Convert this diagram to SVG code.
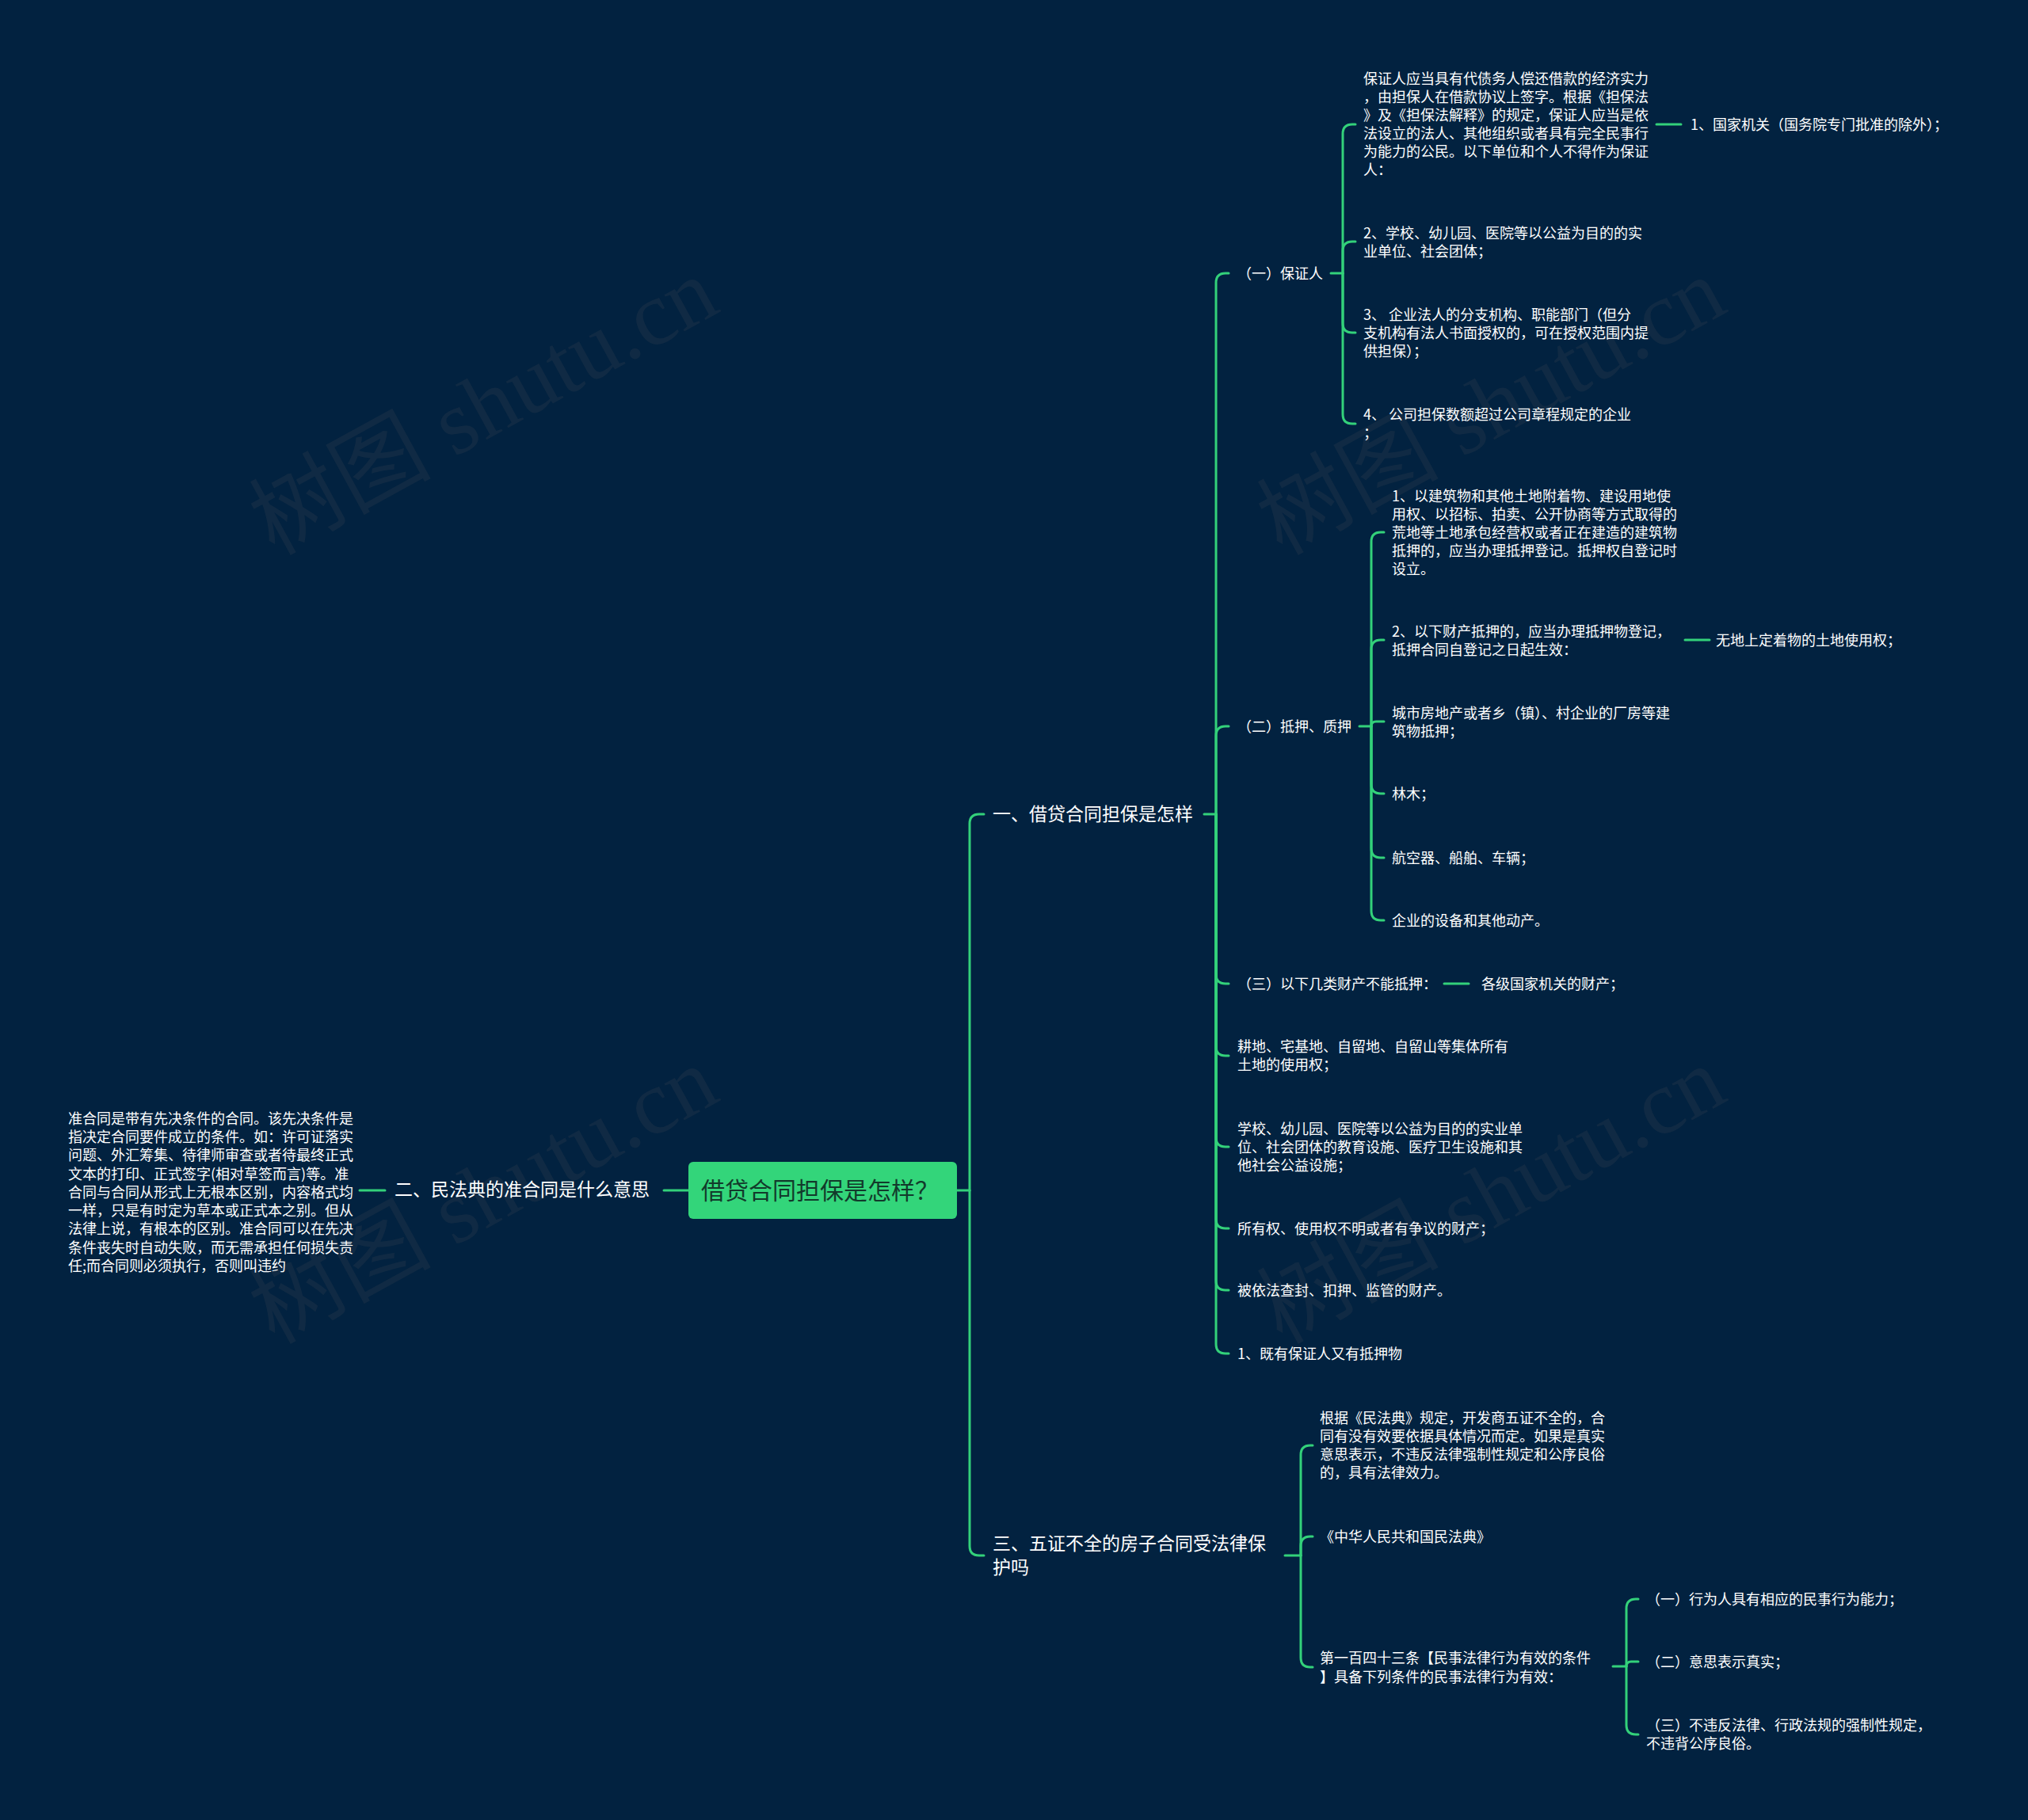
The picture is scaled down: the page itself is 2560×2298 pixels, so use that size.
<svg xmlns="http://www.w3.org/2000/svg" width="2560" height="2298" viewBox="0 0 2560 2298">
<style>
text{font-family:"Noto Sans CJK SC","Noto Sans",sans-serif;fill:#ffffff}
.t18{font-size:18px}
.t23{font-size:23px}
.root{font-size:30px;fill:#123a2b}
.wm{font-size:115px;fill:#3a4550;fill-opacity:0.25;font-family:"Liberation Serif","Noto Sans CJK SC",serif}
.ln{stroke:#33d17a;stroke-width:3;fill:none;stroke-linecap:round}
</style>
<rect x="0" y="0" width="2560" height="2298" fill="#022240"/>
<g id="watermarks">
<text class="wm" transform="translate(346,702) rotate(-28.7)">树图 shutu.cn</text>
<text class="wm" transform="translate(1618,702) rotate(-28.7)">树图 shutu.cn</text>
<text class="wm" transform="translate(346,1698) rotate(-28.7)">树图 shutu.cn</text>
<text class="wm" transform="translate(1618,1698) rotate(-28.7)">树图 shutu.cn</text>
</g>
<g id="connectors" class="ln">
<path d="M1208,1503 H1224"/>
<path d="M1224,1503 V1040 Q1224,1028 1236,1028 H1242"/>
<path d="M1224,1503 V1952 Q1224,1964 1236,1964 H1242"/>
<path d="M869,1503 H838"/>
<path d="M486,1503 H454"/>
<path d="M1520,1028 H1535"/>
<path d="M1535,1028 V357 Q1535,345 1547,345 H1551"/>
<path d="M1535,1028 V929 Q1535,917 1547,917 H1551"/>
<path d="M1535,1028 V1230 Q1535,1242 1547,1242 H1551"/>
<path d="M1535,1028 V1321 Q1535,1333 1547,1333 H1551"/>
<path d="M1535,1028 V1436 Q1535,1448 1547,1448 H1551"/>
<path d="M1535,1028 V1539 Q1535,1551 1547,1551 H1551"/>
<path d="M1535,1028 V1617 Q1535,1629 1547,1629 H1551"/>
<path d="M1535,1028 V1697 Q1535,1709 1547,1709 H1551"/>
<path d="M1680,345 H1695"/>
<path d="M1695,345 V169 Q1695,157 1707,157 H1711"/>
<path d="M1695,345 V317 Q1695,305 1707,305 H1711"/>
<path d="M1695,345 V408 Q1695,420 1707,420 H1711"/>
<path d="M1695,345 V523 Q1695,535 1707,535 H1711"/>
<path d="M2091,157 H2122"/>
<path d="M1716,917 H1731"/>
<path d="M1731,917 V684 Q1731,672 1743,672 H1747"/>
<path d="M1731,917 V820 Q1731,808 1743,808 H1747"/>
<path d="M1731,917 Q1731,911 1737,911 H1747"/>
<path d="M1731,917 V990 Q1731,1002 1743,1002 H1747"/>
<path d="M1731,917 V1071 Q1731,1083 1743,1083 H1747"/>
<path d="M1731,917 V1150 Q1731,1162 1743,1162 H1747"/>
<path d="M2127,808 H2158"/>
<path d="M1823,1242 H1854"/>
<path d="M1622,1964 H1642"/>
<path d="M1642,1964 V1837 Q1642,1825 1654,1825 H1657"/>
<path d="M1642,1964 V1952 Q1642,1940 1654,1940 H1657"/>
<path d="M1642,1964 V2093 Q1642,2105 1654,2105 H1657"/>
<path d="M2036,2104 H2053"/>
<path d="M2053,2104 V2031 Q2053,2019 2065,2019 H2068"/>
<path d="M2053,2104 Q2053,2098 2059,2098 H2068"/>
<path d="M2053,2104 V2178 Q2053,2190 2065,2190 H2068"/>
</g>
<g id="root">
<rect x="869" y="1467" width="339" height="72" rx="6" fill="#33d57a"/>
<text class="root" x="885" y="1514">借贷合同担保是怎样？</text>
</g>
<g id="n-er"><text class="t23" x="498" y="1510">二、民法典的准合同是什么意思</text></g>
<g id="n-er-1"><text class="t18">
<tspan x="86" y="1418.5">准合同是带有先决条件的合同。该先决条件是</tspan>
<tspan x="86" y="1441.5">指决定合同要件成立的条件。如：许可证落实</tspan>
<tspan x="86" y="1464.5">问题、外汇筹集、待律师审查或者待最终正式</tspan>
<tspan x="86" y="1488.5">文本的打印、正式签字(相对草签而言)等。准</tspan>
<tspan x="86" y="1511.5">合同与合同从形式上无根本区别，内容格式均</tspan>
<tspan x="86" y="1534.5">一样，只是有时定为草本或正式本之别。但从</tspan>
<tspan x="86" y="1557.5">法律上说，有根本的区别。准合同可以在先决</tspan>
<tspan x="86" y="1581.5">条件丧失时自动失败，而无需承担任何损失责</tspan>
<tspan x="86" y="1604.5">任;而合同则必须执行，否则叫违约</tspan>
</text></g>
<g id="n-yi"><text class="t23" x="1253" y="1036">一、借贷合同担保是怎样</text></g>
<g id="n-san"><text class="t23"><tspan x="1253" y="1957">三、五证不全的房子合同受法律保</tspan><tspan x="1253" y="1987">护吗</tspan></text></g>
<g id="n-yi-1"><text class="t18" x="1562" y="351.5">（一）保证人</text></g>
<g id="n-yi-2"><text class="t18" x="1562" y="923.5">（二）抵押、质押</text></g>
<g id="n-yi-3"><text class="t18" x="1562" y="1248.5">（三）以下几类财产不能抵押：</text></g>
<g id="n-yi-4"><text class="t18"><tspan x="1562" y="1327.5"> 耕地、宅基地、自留地、自留山等集体所有</tspan><tspan x="1562" y="1350.5">土地的使用权；</tspan></text></g>
<g id="n-yi-5"><text class="t18"><tspan x="1562" y="1431.5">学校、幼儿园、医院等以公益为目的的实业单</tspan><tspan x="1562" y="1454.5">位、社会团体的教育设施、医疗卫生设施和其</tspan><tspan x="1562" y="1477.5">他社会公益设施；</tspan></text></g>
<g id="n-yi-6"><text class="t18" x="1562" y="1557.5">所有权、使用权不明或者有争议的财产；</text></g>
<g id="n-yi-7"><text class="t18" x="1562" y="1635.5">被依法查封、扣押、监管的财产。</text></g>
<g id="n-yi-8"><text class="t18" x="1562" y="1715.5">1、既有保证人又有抵押物</text></g>
<g id="n-bz-1"><text class="t18">
<tspan x="1721" y="105.5">保证人应当具有代债务人偿还借款的经济实力</tspan>
<tspan x="1721" y="128.5">，由担保人在借款协议上签字。根据《担保法</tspan>
<tspan x="1721" y="151.5">》及《担保法解释》的规定，保证人应当是依</tspan>
<tspan x="1721" y="174.5">法设立的法人、其他组织或者具有完全民事行</tspan>
<tspan x="1721" y="197.5">为能力的公民。以下单位和个人不得作为保证</tspan>
<tspan x="1721" y="220.5">人：</tspan>
</text></g>
<g id="n-bz-1-1"><text class="t18" x="2134" y="163.5">1、国家机关（国务院专门批准的除外）；</text></g>
<g id="n-bz-2"><text class="t18"><tspan x="1721" y="300.5">2、学校、幼儿园、医院等以公益为目的的实</tspan><tspan x="1721" y="323.5">业单位、社会团体；</tspan></text></g>
<g id="n-bz-3"><text class="t18"><tspan x="1721" y="403.5">3、 企业法人的分支机构、职能部门（但分</tspan><tspan x="1721" y="426.5">支机构有法人书面授权的，可在授权范围内提</tspan><tspan x="1721" y="449.5">供担保）；</tspan></text></g>
<g id="n-bz-4"><text class="t18"><tspan x="1721" y="529.5">4、 公司担保数额超过公司章程规定的企业</tspan><tspan x="1721" y="552.5">；</tspan></text></g>
<g id="n-dy-1"><text class="t18">
<tspan x="1757" y="632.5">1、以建筑物和其他土地附着物、建设用地使</tspan>
<tspan x="1757" y="655.5">用权、以招标、拍卖、公开协商等方式取得的</tspan>
<tspan x="1757" y="678.5">荒地等土地承包经营权或者正在建造的建筑物</tspan>
<tspan x="1757" y="701.5">抵押的，应当办理抵押登记。抵押权自登记时</tspan>
<tspan x="1757" y="724.5">设立。</tspan>
</text></g>
<g id="n-dy-2"><text class="t18"><tspan x="1757" y="803.5">2、以下财产抵押的，应当办理抵押物登记，</tspan><tspan x="1757" y="826.5">抵押合同自登记之日起生效：</tspan></text></g>
<g id="n-dy-2-1"><text class="t18" x="2166" y="814.5">无地上定着物的土地使用权；</text></g>
<g id="n-dy-3"><text class="t18"><tspan x="1757" y="906.5">城市房地产或者乡（镇）、村企业的厂房等建</tspan><tspan x="1757" y="929.5">筑物抵押；</tspan></text></g>
<g id="n-dy-4"><text class="t18" x="1757" y="1008.5">林木；</text></g>
<g id="n-dy-5"><text class="t18" x="1757" y="1089.5">航空器、船舶、车辆；</text></g>
<g id="n-dy-6"><text class="t18" x="1757" y="1168.5">企业的设备和其他动产。</text></g>
<g id="n-yi-3-1"><text class="t18" x="1870" y="1248.5">各级国家机关的财产；</text></g>
<g id="n-san-1"><text class="t18">
<tspan x="1666" y="1796.5">根据《民法典》规定，开发商五证不全的，合</tspan>
<tspan x="1666" y="1819.5">同有没有效要依据具体情况而定。如果是真实</tspan>
<tspan x="1666" y="1842.5">意思表示，不违反法律强制性规定和公序良俗</tspan>
<tspan x="1666" y="1865.5">的，具有法律效力。</tspan>
</text></g>
<g id="n-san-2"><text class="t18" x="1666" y="1946.5">《中华人民共和国民法典》</text></g>
<g id="n-san-3"><text class="t18"><tspan x="1666" y="2099.5">第一百四十三条【民事法律行为有效的条件</tspan><tspan x="1666" y="2123.5">】具备下列条件的民事法律行为有效：</tspan></text></g>
<g id="n-san-3-1"><text class="t18" x="2078" y="2025.5">（一）行为人具有相应的民事行为能力；</text></g>
<g id="n-san-3-2"><text class="t18" x="2078" y="2104.5">（二）意思表示真实；</text></g>
<g id="n-san-3-3"><text class="t18"><tspan x="2078" y="2184.5">（三）不违反法律、行政法规的强制性规定，</tspan><tspan x="2078" y="2207.5">不违背公序良俗。</tspan></text></g>
</svg>
